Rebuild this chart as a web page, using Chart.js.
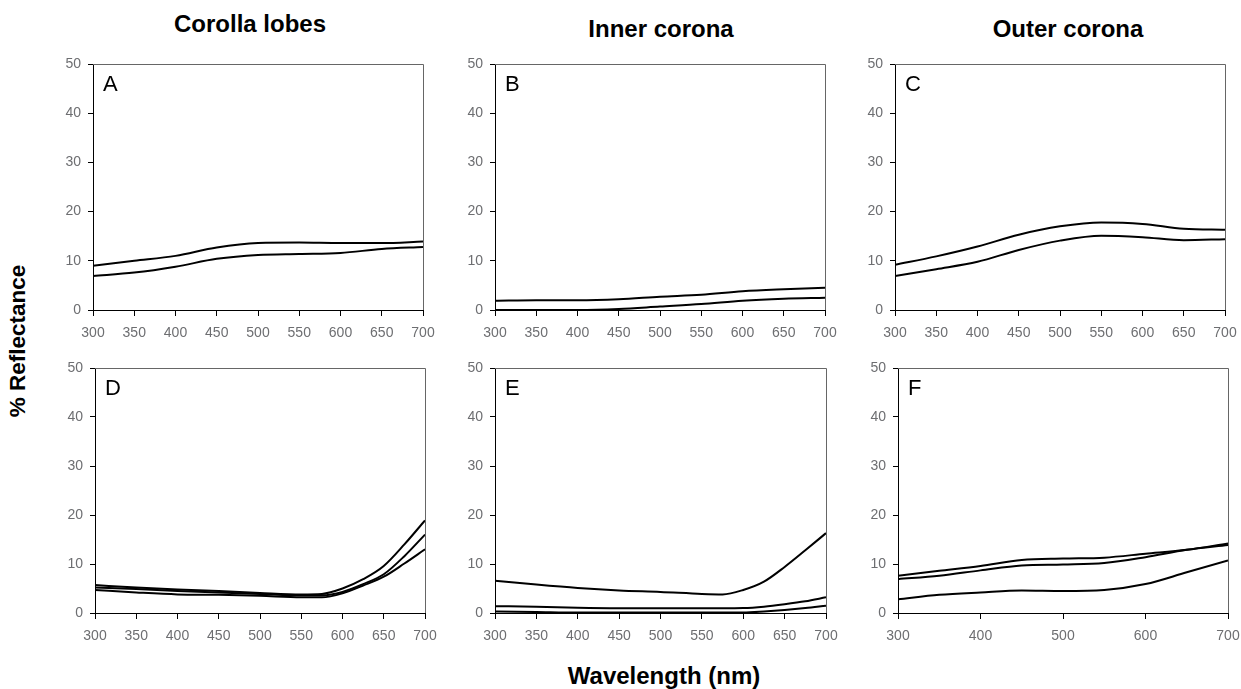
<!DOCTYPE html>
<html>
<head>
<meta charset="utf-8">
<script src="https://cdn.jsdelivr.net/npm/chart.js@4/dist/chart.umd.min.js"></script>
<style>
  body { margin: 0; background: #fff; font-family: "Liberation Sans", Arial, sans-serif; }
  #wrap { position: relative; width: 1241px; height: 689px; overflow: hidden; }
  canvas { position: absolute; }
  .lbl { position: absolute; transform: translate(-50%, -50%); font-weight: bold; color: #000; white-space: nowrap; }
</style>
</head>
<body>
<div id="wrap">
  <div class="lbl" style="left:250px;top:24px;font-size:24px;">Corolla lobes</div>
  <div class="lbl" style="left:661px;top:29px;font-size:24px;">Inner corona</div>
  <div class="lbl" style="left:1068px;top:29px;font-size:24px;">Outer corona</div>
  <div class="lbl" style="left:18px;top:341px;font-size:22.5px;transform:translate(-50%,-50%) rotate(-90deg);">% Reflectance</div>
  <div class="lbl" style="left:664px;top:676px;font-size:24px;">Wavelength (nm)</div>
</div>
<script>
// wavelengths (nm)
const wlEven = [300, 350, 400, 450, 500, 550, 600, 650, 700];
const wlFine = [300, 350, 400, 450, 500, 550, 575, 600, 625, 650, 675, 700];

// A - corolla lobes (top row)
const seriesA1 = [9.0, 10.0, 11.0, 12.7, 13.6, 13.7, 13.6, 13.6, 13.9];
const seriesA2 = [6.9, 7.6, 8.8, 10.4, 11.2, 11.4, 11.6, 12.4, 12.8];
// B - inner corona
const seriesB1 = [1.9, 2.0, 2.0, 2.2, 2.7, 3.1, 3.8, 4.2, 4.5];
const seriesB2 = [0, 0, 0, 0.2, 0.7, 1.2, 1.9, 2.3, 2.5];
// C - outer corona
const seriesC1 = [9.2, 10.9, 12.9, 15.3, 17.0, 17.8, 17.5, 16.5, 16.3];
const seriesC2 = [6.9, 8.3, 9.8, 12.2, 14.1, 15.1, 14.8, 14.2, 14.4];
// D - corolla lobes (bottom row)
const seriesD1 = [5.7, 5.2, 4.8, 4.5, 4.1, 3.8, 3.9, 5.0, 6.9, 9.6, 14.0, 18.9];
const seriesD2 = [5.2, 4.9, 4.5, 4.2, 3.9, 3.6, 3.6, 4.3, 5.9, 7.9, 11.6, 16.0];
const seriesD3 = [4.7, 4.2, 3.8, 3.7, 3.5, 3.2, 3.2, 4.0, 5.6, 7.4, 10.1, 13.0];
// E - inner corona
const seriesE1 = [6.6, 5.8, 5.1, 4.6, 4.3, 3.9, 3.8, 4.7, 6.4, 9.4, 12.8, 16.3];
const seriesE2 = [1.4, 1.3, 1.05, 0.95, 0.95, 0.95, 0.95, 1.0, 1.3, 1.8, 2.4, 3.2];
const seriesE3 = [0.3, 0.2, 0.1, 0.1, 0.1, 0.1, 0.1, 0.1, 0.3, 0.6, 1.0, 1.5];
// F - outer corona
const seriesF1 = [7.6, 8.6, 9.6, 10.8, 11.1, 11.3, 12.1, 12.9, 14.2];
const seriesF2 = [6.9, 7.6, 8.7, 9.7, 9.9, 10.2, 11.4, 12.9, 13.9];
const seriesF3 = [2.8, 3.7, 4.2, 4.6, 4.5, 4.7, 5.9, 8.3, 10.7];

const yTicks = [0, 10, 20, 30, 40, 50];

// box placement of each plot area: left, right, top, bottom
const panels = [
  { letter: 'A', box: [93, 423, 64, 310], x: wlEven, series: [seriesA1, seriesA2], step: 50 },
  { letter: 'B', box: [495, 825, 64, 310], x: wlEven, series: [seriesB1, seriesB2], step: 50 },
  { letter: 'C', box: [895, 1225, 64, 310], x: wlEven, series: [seriesC1, seriesC2], step: 50 },
  { letter: 'D', box: [95, 425, 368, 613], x: wlFine, series: [seriesD1, seriesD2, seriesD3], step: 50 },
  { letter: 'E', box: [495, 826, 368, 613], x: wlFine, series: [seriesE1, seriesE2, seriesE3], step: 50 },
  { letter: 'F', box: [898, 1228, 368, 613], x: wlEven, series: [seriesF1, seriesF2, seriesF3], step: 100 }
];

const FONT = '"Liberation Sans", Arial, sans-serif';
const TICK_GREY = '#6d6e71';
const PAD_L = 44, PAD_T = 12, PAD_R = 13, PAD_B = 36;

// draws the grey top/right frame and the panel letter
const framePlugin = {
  id: 'frame',
  afterDraw(chart, args, opts) {
    const { ctx, chartArea: a } = chart;
    ctx.save();
    ctx.strokeStyle = '#666';
    ctx.lineWidth = 1;
    ctx.beginPath();
    ctx.moveTo(a.left, a.top + 0.5);
    ctx.lineTo(a.right + 0.5, a.top + 0.5);
    ctx.lineTo(a.right + 0.5, a.bottom);
    ctx.stroke();
    ctx.fillStyle = '#000';
    ctx.font = '22px ' + FONT;
    ctx.textBaseline = 'alphabetic';
    ctx.fillText(opts.letter, a.left + 10, a.top + 27);
    ctx.restore();
  }
};

const wrap = document.getElementById('wrap');

panels.forEach(p => {
  const [L, R, T, B] = p.box;
  const canvas = document.createElement('canvas');
  const w = (R - L) + PAD_L + PAD_R;
  const h = (B - T) + PAD_T + PAD_B;
  canvas.style.left = (L - PAD_L) + 'px';
  canvas.style.top = (T - PAD_T) + 'px';
  canvas.style.width = w + 'px';
  canvas.style.height = h + 'px';
  canvas.width = w;
  canvas.height = h;
  wrap.appendChild(canvas);

  new Chart(canvas.getContext('2d'), {
    type: 'line',
    data: {
      datasets: p.series.map(s => ({
        data: p.x.map((v, i) => ({ x: v, y: s[i] })),
        borderColor: '#000',
        borderWidth: 2,
        pointRadius: 0,
        fill: false,
        cubicInterpolationMode: 'monotone'
      }))
    },
    options: {
      responsive: false,
      animation: false,
      layout: { padding: { left: 0, top: PAD_T, right: PAD_R, bottom: 0 } },
      scales: {
        x: {
          type: 'linear',
          min: 300,
          max: 700,
          afterFit: axis => { axis.height = PAD_B; axis.paddingLeft = 0; axis.paddingRight = 0; },
          ticks: { stepSize: p.step, color: TICK_GREY, font: { family: FONT, size: 14 }, padding: 9, maxRotation: 0 },
          grid: { drawOnChartArea: false, tickLength: 6, color: '#000' },
          border: { color: '#000', width: 1 }
        },
        y: {
          min: 0,
          max: 50,
          afterFit: axis => { axis.width = PAD_L; axis.paddingTop = 0; axis.paddingBottom = 0; },
          afterBuildTicks: axis => { axis.ticks = yTicks.map(v => ({ value: v })); },
          ticks: { color: TICK_GREY, font: { family: FONT, size: 14 }, padding: 7 },
          grid: { drawOnChartArea: false, tickLength: 5, color: '#000' },
          border: { color: '#000', width: 1 }
        }
      },
      plugins: {
        legend: { display: false },
        tooltip: { enabled: false },
        frame: { letter: p.letter }
      }
    },
    plugins: [framePlugin]
  });
});
</script>
</body>
</html>
